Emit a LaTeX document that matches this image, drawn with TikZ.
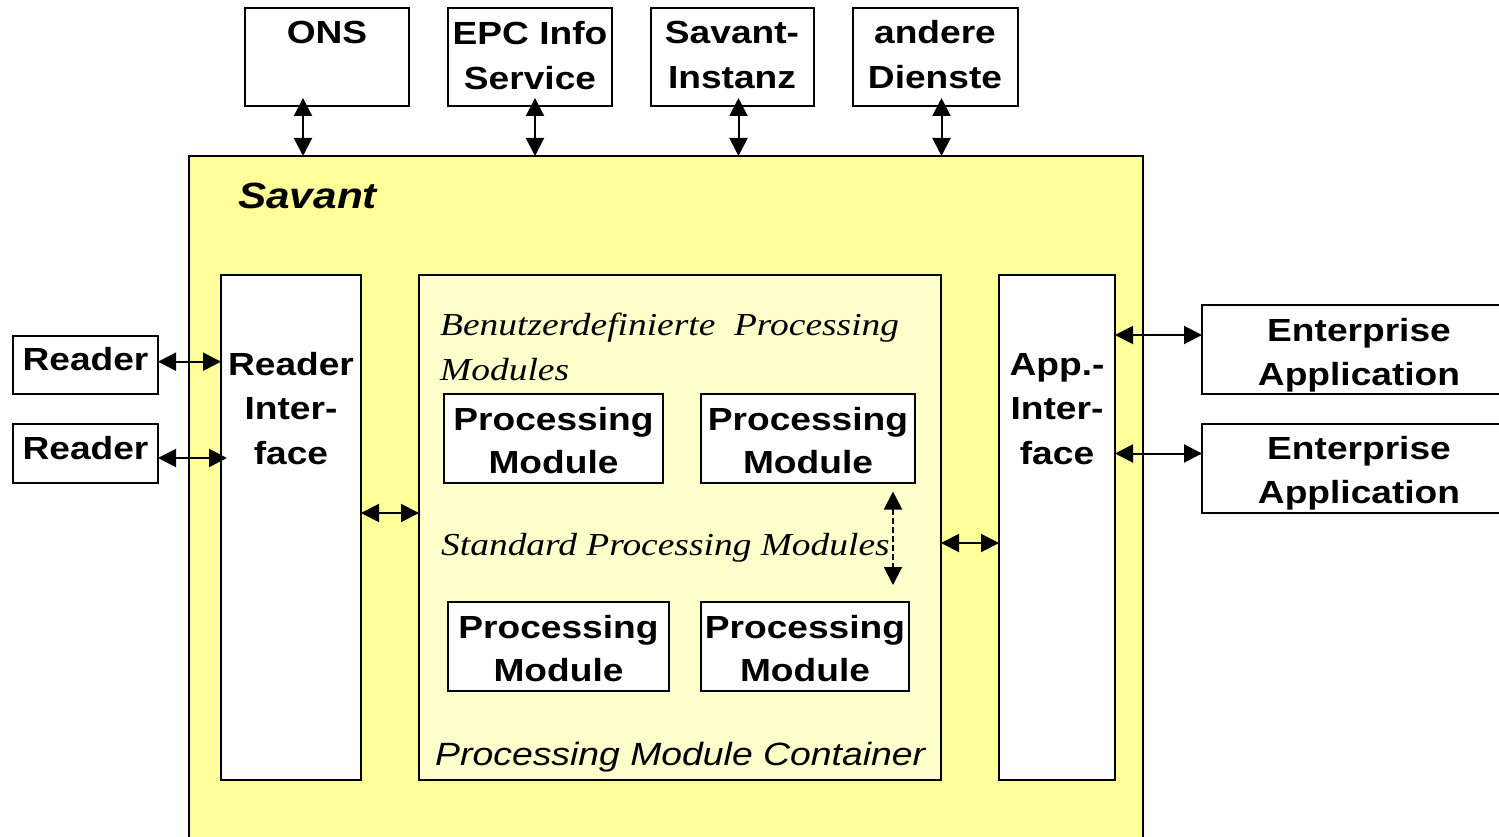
\documentclass[tikz,border=0pt]{standalone}
\usepackage{fontspec}
\setmainfont{Liberation Sans}[FakeStretch=1.16]
\newfontfamily\serifit{Liberation Serif}[FakeStretch=1.17]
\usetikzlibrary{arrows.meta,calc}
\definecolor{savantfill}{HTML}{FFFF99}
\definecolor{containerfill}{HTML}{FFFFCC}
% stacked lines, baseline = first line
\newcommand\mylines[2][c]{\begin{tabular}[t]{@{}#1@{}}#2\end{tabular}}

\begin{document}
\begin{tikzpicture}[x=1pt,y=-1pt,
  blk/.style={draw, line width=2pt, inner sep=0pt, outer sep=0pt, anchor=north west},
  lbl/.style={inner sep=0pt, anchor=base, font=\bfseries\fontsize{32}{44.5}\selectfont},
  itl/.style={inner sep=0pt, anchor=base west, font=\serifit\itshape\fontsize{32}{45}\selectfont},
  arr/.style={line width=2pt, {Triangle[length=18pt,width=18pt]}-{Triangle[length=18pt,width=18pt]}},
]
\useasboundingbox (0,0) rectangle (1499,837);
\clip (0,0) rectangle (1499,837);

% Savant frame
\node[blk, fill=savantfill, minimum width=954pt, minimum height=720pt] (savant) at (189,156) {};
\node[inner sep=0pt, anchor=base west, font=\bfseries\itshape\fontsize{36.5}{42}\selectfont] (savantT) at (238,208) {Savant};

% external services
\node[blk, fill=white, minimum width=164pt, minimum height=98pt] (ons) at (245,8) {};
\node[blk, fill=white, minimum width=164pt, minimum height=98pt] (epc) at (448,8) {};
\node[blk, fill=white, minimum width=163pt, minimum height=98pt] (inst) at (651,8) {};
\node[blk, fill=white, minimum width=165pt, minimum height=98pt] (other) at (853,8) {};
\node[lbl] (onsT) at (327,44) {ONS};
\node[lbl] (epcT) at (530,45) {\mylines{EPC Info\\Service}};
\node[lbl] (instT) at (732,44) {\mylines{Savant-\\Instanz}};
\node[lbl] (otherT) at (935,44) {\mylines{andere\\Dienste}};

% interfaces and container
\node[blk, fill=white, minimum width=140pt, minimum height=505pt] (rif) at (221,275) {};
\node[blk, fill=containerfill, minimum width=522pt, minimum height=505pt] (pmc) at (419,275) {};
\node[blk, fill=white, minimum width=116pt, minimum height=505pt] (aif) at (999,275) {};
\node[lbl] (rifT) at (291,375) {\mylines{Reader\\Inter-\\face}};
\node[lbl] (aifT) at (1057,375) {\mylines{App.-\\Inter-\\face}};

% readers
\node[blk, fill=white, minimum width=145pt, minimum height=58pt] (rd1) at (13,336) {};
\node[blk, fill=white, minimum width=145pt, minimum height=59pt] (rd2) at (13,424) {};
\node[lbl] (rd1T) at (85.5,370) {Reader};
\node[lbl] (rd2T) at (85.5,459) {Reader};

% enterprise applications
\node[blk, fill=white, minimum width=320pt, minimum height=89pt] (ea1) at (1202,305) {};
\node[blk, fill=white, minimum width=320pt, minimum height=89pt] (ea2) at (1202,424) {};
\node[lbl, font=\bfseries\fontsize{32}{44}\selectfont] (ea1T) at (1359,341) {\mylines{Enterprise\\Application}};
\node[lbl, font=\bfseries\fontsize{32}{44}\selectfont] (ea2T) at (1359,459) {\mylines{Enterprise\\Application}};

% processing modules
\node[blk, fill=white, minimum width=219pt, minimum height=89pt] (pm1) at (444,394) {};
\node[blk, fill=white, minimum width=214pt, minimum height=89pt] (pm2) at (701,394) {};
\node[blk, fill=white, minimum width=221pt, minimum height=89pt] (pm3) at (448,602) {};
\node[blk, fill=white, minimum width=208pt, minimum height=89pt] (pm4) at (701,602) {};
\tikzset{pml/.style={lbl, font=\bfseries\fontsize{32}{43}\selectfont}}
\node[pml] (pm1T) at (553.5,430) {\mylines{Processing\\Module}};
\node[pml] (pm2T) at (808,430) {\mylines{Processing\\Module}};
\node[pml] (pm3T) at (558.5,638) {\mylines{Processing\\Module}};
\node[pml] (pm4T) at (805,638) {\mylines{Processing\\Module}};

% container captions
\node[itl] (userT) at (440,335) {\mylines[l]{Benutzerdefinierte\ \ Processing\\Modules}};
\node[itl] (stdT) at (441,555) {Standard Processing Modules};
\node[inner sep=0pt, anchor=base west, font=\itshape\fontsize{32.2}{36}\selectfont] (pmcT) at (435,765) {Processing Module Container};

% service links
\draw[arr] ([xshift=-24pt,yshift=8pt]ons.south) -- ([xshift=-24pt]ons.south |- savant.north);
\draw[arr] ([xshift=5pt,yshift=8pt]epc.south) -- ([xshift=5pt]epc.south |- savant.north);
\draw[arr] ([xshift=6pt,yshift=8pt]inst.south) -- ([xshift=6pt]inst.south |- savant.north);
\draw[arr] ([xshift=6pt,yshift=8pt]other.south) -- ([xshift=6pt]other.south |- savant.north);

% reader links
\coordinate (r1a) at ([yshift=3.3pt]rd1.east);
\coordinate (r2a) at ([yshift=-4.5pt]rd2.east);
\draw[arr] (r1a) -- (rif.west |- r1a);
\draw[arr] (r2a) -- ([xshift=6pt]rif.west |- r2a);

% internal links
\draw[arr] ([yshift=14.5pt]rif.east) -- ([yshift=14.5pt]pmc.west);
\draw[arr] ([yshift=-15.5pt]pmc.east) -- ([yshift=-15.5pt]aif.west);
\draw[arr, dash pattern=on 6pt off 3pt] ([xshift=-22pt,yshift=-8.5pt]pm2.south east) -- ([xshift=-22pt,yshift=17pt]pm2.south east |- pm4.north);

% application links
\coordinate (e1a) at ([yshift=14.5pt]ea1.west);
\coordinate (e2a) at ([yshift=15pt]ea2.west);
\draw[arr] (aif.east |- e1a) -- (e1a);
\draw[arr] (aif.east |- e2a) -- (e2a);
\end{tikzpicture}
\end{document}
